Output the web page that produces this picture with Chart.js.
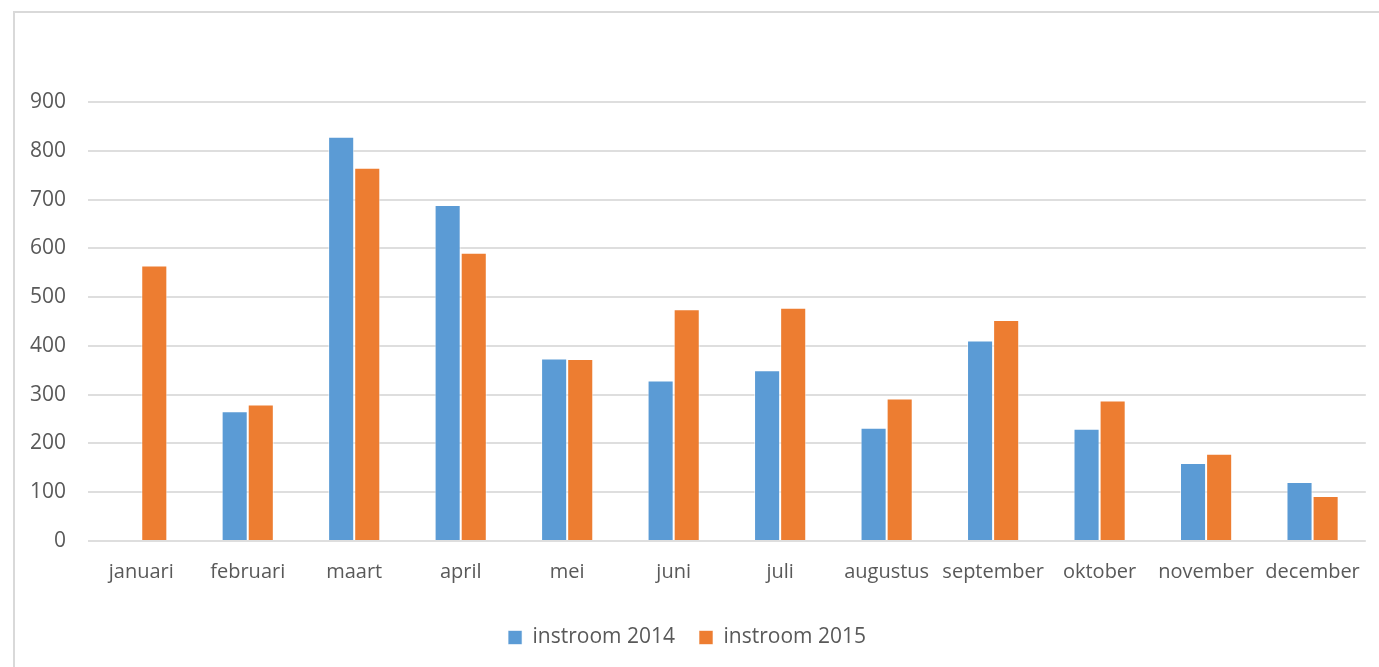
<!DOCTYPE html>
<html>
<head>
<meta charset="utf-8">
<script src="https://cdn.jsdelivr.net/npm/chart.js@4"></script>
<style>
  html, body { margin: 0; padding: 0; background: #fff; overflow: hidden; }
  #frame {
    position: absolute; left: 13px; top: 11px; width: 1400px; height: 700px;
    border-left: 2px solid #d9d9d9; border-top: 2px solid #d9d9d9;
  }
  #wrap { position: absolute; left: 0; top: 0; width: 1379px; height: 667px; }
</style>
</head>
<body>
<div id="frame"></div>
<div id="wrap"><canvas id="myChart"></canvas></div>
<script>
  const months = ['januari', 'februari', 'maart', 'april', 'mei', 'juni', 'juli',
    'augustus', 'september', 'oktober', 'november', 'december'];
  const instroom2014 = [null, 266, 829, 689, 374, 329, 350, 232, 411, 230, 160, 121];
  const instroom2015 = [565, 280, 765, 591, 373, 475, 478, 292, 453, 288, 179, 92];
  const yTicks = [0, 100, 200, 300, 400, 500, 600, 700, 800, 900];

  const textColor = '#595959';
  const fontFamily = '"Open Sans", sans-serif';

  const data = {
    labels: months,
    datasets: [{
      label: 'instroom 2014',
      data: instroom2014,
      backgroundColor: '#5B9BD5',
      borderColor: 'rgba(255,255,255,0.6)',
      borderWidth: 1
    }, {
      label: 'instroom 2015',
      data: instroom2015,
      backgroundColor: '#ED7D31',
      borderColor: 'rgba(255,255,255,0.6)',
      borderWidth: 1
    }]
  };

  // config
  const config = {
    type: 'bar',
    data,
    options: {
      responsive: true,
      maintainAspectRatio: false,
      animation: false,
      categoryPercentage: 0.49,
      barPercentage: 1.0,
      layout: {
        padding: { top: 102, right: 5, left: 0, bottom: 9 }
      },
      plugins: {
        tooltip: { enabled: false },
        legend: {
          position: 'bottom',
          labels: {
            boxWidth: 14,
            boxHeight: 14,
            padding: 24,
            color: textColor,
            font: { family: fontFamily, size: 21 }
          }
        }
      },
      scales: {
        x: {
          border: { display: false },
          grid: { display: false, drawTicks: false },
          ticks: {
            color: textColor,
            font: { family: fontFamily, size: 20 },
            autoSkip: false,
            maxRotation: 0,
            padding: 19
          }
        },
        y: {
          min: 0,
          max: 900,
          afterBuildTicks: (scale) => {
            scale.ticks = yTicks.map(v => ({ value: v }));
          },
          afterFit: (scale) => { scale.width = 88; },
          border: { display: false },
          grid: { color: '#dedede', lineWidth: 2, drawTicks: false },
          ticks: {
            color: textColor,
            font: { family: fontFamily, size: 21 },
            padding: 22
          }
        }
      }
    }
  };

  // render init block
  const myChart = new Chart(
    document.getElementById('myChart'),
    config
  );
</script>
</body>
</html>
